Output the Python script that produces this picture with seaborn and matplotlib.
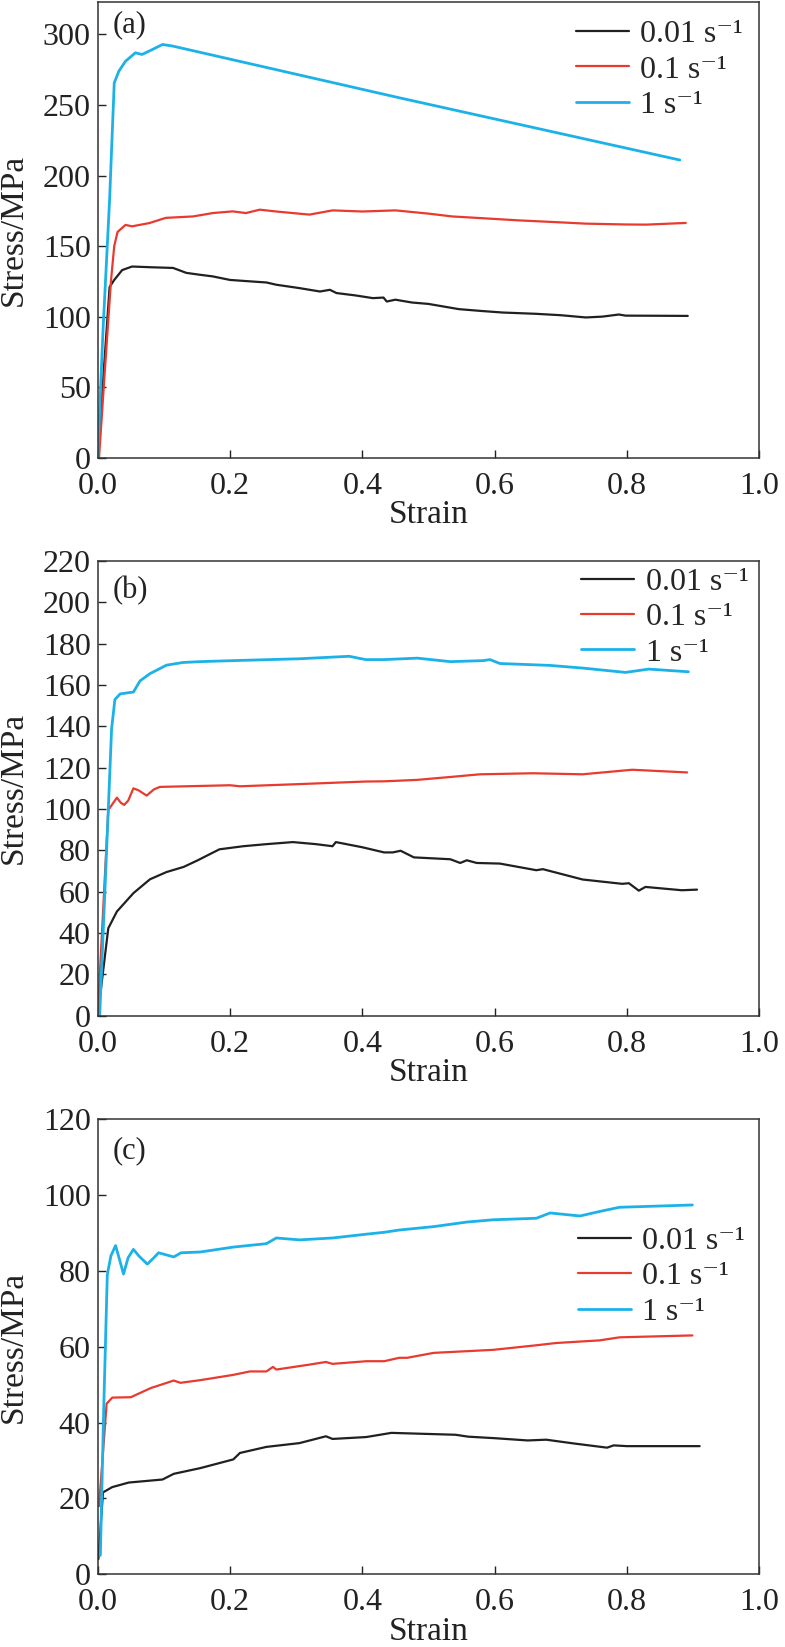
import matplotlib
matplotlib.use('Agg')
import matplotlib.pyplot as plt
import seaborn as sns
from matplotlib.ticker import MultipleLocator, FormatStrFormatter

# ---- panel (a) ----
a_strain_001 = [0, 0.018, 0.025, 0.037, 0.052, 0.08, 0.114, 0.134, 0.154, 0.174, 0.2, 0.23, 0.255, 0.27,
                0.305, 0.336, 0.351, 0.361, 0.39, 0.416, 0.432, 0.437, 0.45, 0.475, 0.5, 0.546, 0.58, 0.612,
                0.662, 0.7, 0.738, 0.763, 0.788, 0.798, 0.85, 0.892]
a_stress_001 = [0, 121, 126, 133, 135.5, 135, 134.5, 131, 129.7, 128.5, 126, 125, 124.2, 122.6,
                120.2, 117.8, 119, 116.7, 115, 113.1, 113.5, 110.7, 112, 110, 109, 105.3, 104, 102.9,
                102, 101, 99.4, 100, 101.5, 100.7, 100.6, 100.5]
a_strain_01 = [0.002, 0.012, 0.02, 0.025, 0.03, 0.042, 0.052, 0.078, 0.103, 0.144, 0.174, 0.204, 0.224,
               0.245, 0.27, 0.295, 0.32, 0.355, 0.4, 0.45, 0.5, 0.536, 0.58, 0.637, 0.7, 0.738, 0.8, 0.829, 0.889]
a_stress_01 = [0, 70, 125, 150, 160, 165, 164, 166.3, 170, 171, 173.4, 174.6, 173.4,
               175.8, 174.5, 173.4, 172.3, 175.3, 174.5, 175.3, 173, 171, 169.8, 168.2, 166.8, 165.9, 165.3, 165.2, 166.4]
a_strain_1 = [0, 0.008, 0.018, 0.025, 0.032, 0.042, 0.057, 0.067, 0.083, 0.098, 0.114, 0.457, 0.88]
a_stress_1 = [0, 90, 183, 265.7, 274, 281, 287, 285.8, 289.4, 292.9, 291.7, 255, 211]

# ---- panel (b) ----
b_strain_001 = [0, 0.016, 0.029, 0.054, 0.079, 0.104, 0.13, 0.15, 0.184, 0.22, 0.255, 0.295, 0.33, 0.355,
                0.36, 0.4, 0.433, 0.446, 0.458, 0.478, 0.533, 0.548, 0.558, 0.573, 0.608, 0.663, 0.673,
                0.733, 0.793, 0.803, 0.818, 0.828, 0.883, 0.906]
b_stress_001 = [0, 42.3, 50.4, 59.3, 66, 69.5, 72, 75, 80.5, 82, 83, 84, 83, 82,
                84, 81.5, 79, 79, 79.8, 76.6, 75.7, 73.9, 75.2, 73.9, 73.6, 70.4, 70.9,
                65.9, 63.8, 64.1, 60.5, 62.3, 60.7, 61]
b_strain_01 = [0, 0.016, 0.029, 0.035, 0.04, 0.046, 0.054, 0.062, 0.074, 0.085, 0.094, 0.2, 0.215, 0.3,
               0.405, 0.433, 0.483, 0.533, 0.578, 0.658, 0.733, 0.808, 0.891]
b_stress_01 = [0, 99.5, 105.5, 103, 102, 104, 110, 109, 106.5, 109.5, 110.7, 111.5, 111, 112,
               113.3, 113.4, 114.1, 115.5, 116.8, 117.3, 116.8, 119, 117.7]
b_strain_1 = [0.003, 0.016, 0.021, 0.026, 0.034, 0.054, 0.064, 0.079, 0.104, 0.129, 0.154, 0.205, 0.305,
              0.38, 0.405, 0.433, 0.483, 0.533, 0.583, 0.593, 0.608, 0.683, 0.733, 0.798, 0.833, 0.893]
b_stress_1 = [0, 99.5, 138.8, 153, 155.7, 156.6, 162, 165.5, 169.6, 170.9, 171.3, 171.8, 172.7,
              173.9, 172.3, 172.3, 173, 171.3, 171.8, 172.3, 170.4, 169.5, 168.2, 166.1, 167.7, 166.4]

# ---- panel (c) ----
c_strain_001 = [0.001, 0.008, 0.022, 0.047, 0.098, 0.115, 0.155, 0.205, 0.215, 0.255, 0.305, 0.345, 0.355,
                0.406, 0.444, 0.541, 0.56, 0.6, 0.65, 0.678, 0.72, 0.77, 0.78, 0.8, 0.91]
c_stress_001 = [4, 21.6, 23, 24.2, 25, 26.5, 28, 30.3, 32, 33.6, 34.6, 36.4, 35.7,
                36.2, 37.3, 36.8, 36.3, 35.9, 35.3, 35.5, 34.5, 33.4, 34, 33.8, 33.8]
c_strain_01 = [0.002, 0.0135, 0.022, 0.05, 0.08, 0.115, 0.125, 0.155, 0.205, 0.23, 0.255, 0.265, 0.27,
               0.32, 0.345, 0.355, 0.406, 0.433, 0.456, 0.468, 0.508, 0.598, 0.663, 0.693, 0.759, 0.789, 0.899]
c_stress_01 = [18, 45, 46.6, 46.7, 49.1, 51.1, 50.5, 51.2, 52.6, 53.5, 53.5, 54.7, 54,
               55.3, 56, 55.5, 56.2, 56.2, 57.1, 57.1, 58.4, 59.2, 60.4, 61, 61.7, 62.5, 63]
c_strain_1 = [0.004, 0.009, 0.0145, 0.02, 0.027, 0.033, 0.039, 0.046, 0.054, 0.062, 0.075, 0.085, 0.092,
              0.115, 0.126, 0.155, 0.205, 0.255, 0.27, 0.305, 0.355, 0.406, 0.433, 0.456, 0.508, 0.558,
              0.598, 0.663, 0.684, 0.729, 0.759, 0.789, 0.899]
c_stress_1 = [5, 43, 79, 84, 86.7, 83, 79.2, 83.5, 85.7, 84, 81.8, 83.5, 84.8,
              83.7, 84.8, 85, 86.3, 87.2, 88.7, 88.2, 88.7, 89.7, 90.2, 90.8, 91.7, 92.9,
              93.5, 93.9, 95.3, 94.5, 95.7, 96.8, 97.4]

rate_labels = ['0.01 s\u207b\u00b9', '0.1 s\u207b\u00b9', '1 s\u207b\u00b9']
colors = ['#231f20', '#e83a2e', '#1cb2e8']

sns.set_theme(style='ticks')
plt.rcParams['font.family'] = ['Liberation Serif', 'DejaVu Serif']

fig = plt.figure(figsize=(7.85, 16.47), dpi=100)
W, H = 785, 1647
left, width = 97.7 / W, 661.5 / W
# top and bottom pixel of each panel
boxes = [(2, 457.7), (561, 1015.7), (1119.3, 1574.3)]

panels = [
    ('(a)', [(a_strain_001, a_stress_001), (a_strain_01, a_stress_01), (a_strain_1, a_stress_1)], 323, 50, 0.982, 0.961),
    ('(b)', [(b_strain_001, b_stress_001), (b_strain_01, b_stress_01), (b_strain_1, b_stress_1)], 220, 20, 0.968, 0.986),
    ('(c)', [(c_strain_001, c_stress_001), (c_strain_01, c_stress_01), (c_strain_1, c_stress_1)], 120, 20, 0.962, 0.764),
]
leg_x = [0.723, 0.731, 0.726]

for i, (tag, series, ymax, ystep, tag_y, leg_y) in enumerate(panels):
    top, bot = boxes[i]
    ax = fig.add_axes([left, 1 - bot / H, width, (bot - top) / H])
    for (xs, ys), lab, col in zip(series, rate_labels, colors):
        lw = 2.0 if col == '#1cb2e8' else 1.6
        sns.lineplot(x=xs, y=ys, ax=ax, color=col, label=lab, sort=False, estimator=None, linewidth=lw)
    ax.set_xlim(0, 1.0)
    ax.set_ylim(0, ymax)
    ax.xaxis.set_major_locator(MultipleLocator(0.2))
    ax.xaxis.set_major_formatter(FormatStrFormatter('%.1f'))
    ax.yaxis.set_major_locator(MultipleLocator(ystep))
    ax.tick_params(direction='in', length=6, width=1, labelsize=23, colors='#222222', pad=5)
    ax.tick_params(axis='x', pad=10)
    for sp in ax.spines.values():
        sp.set_linewidth(1.1)
        sp.set_color('#333333')
    ax.set_xlabel('Strain', fontsize=24, color='#222222')
    ax.set_ylabel('Stress/MPa', fontsize=24, color='#222222')
    ax.xaxis.set_label_coords(0.5, -0.092)
    ax.yaxis.set_label_coords(-0.104, 0.5)
    ax.text(0.022, tag_y, tag, transform=ax.transAxes, fontsize=22, va='top', ha='left', color='#222222')
    ax.legend(loc='upper left', bbox_to_anchor=(leg_x[i], leg_y), frameon=False, fontsize=23,
              handlelength=1.65, handletextpad=0.37, labelspacing=0.19, borderpad=0, borderaxespad=0)

fig.savefig('out.png', dpi=100)
